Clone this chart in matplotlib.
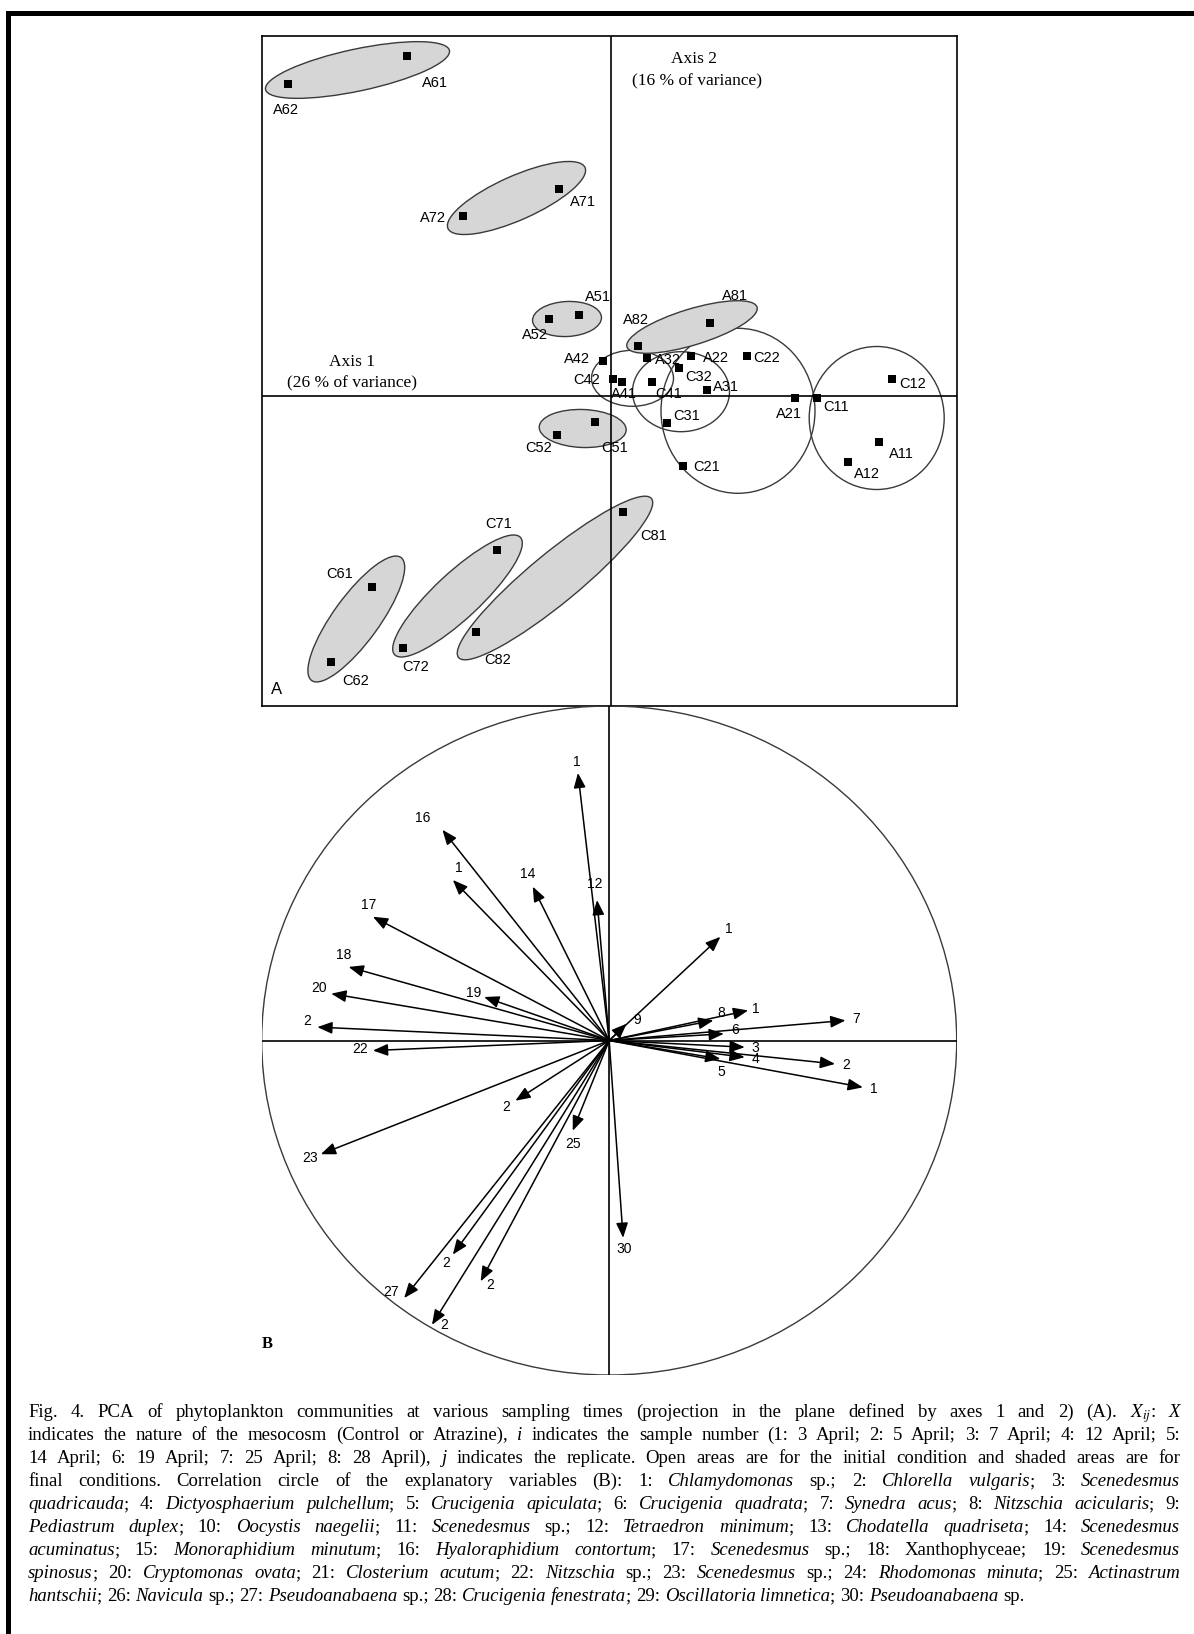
import matplotlib
matplotlib.use("Agg")
import matplotlib.pyplot as plt
from matplotlib.patches import Ellipse, FancyArrowPatch

plt.rcParams["font.family"] = ["Liberation Sans", "DejaVu Sans"]
plt.rcParams["mathtext.fontset"] = "stix"

SANS = "Liberation Sans"
SERIF = "Liberation Serif"

# ---- Panel A: sample scores on PCA axes 1 and 2 ----
samples = ["A61", "A62", "A71", "A72", "A51", "A52", "A81", "A82", "A42", "A32",
           "A22", "C22", "C32", "C42", "A41", "C41", "A31", "A21", "C11", "C12",
           "A11", "A12", "C31", "C21", "C51", "C52", "C81", "C82", "C71", "C72",
           "C61", "C62"]
axis1 = [-2.04, -3.23, -0.52, -1.48, -0.32, -0.62, 0.99, 0.27, -0.08, 0.36,
         0.80, 1.36, 0.68, 0.02, 0.11, 0.41, 0.96, 1.84, 2.06, 2.81,
         2.68, 2.37, 0.56, 0.72, -0.16, -0.54, 0.12, -1.35, -1.14, -2.08,
         -2.39, -2.80]
axis2 = [3.40, 3.12, 2.07, 1.80, 0.81, 0.77, 0.73, 0.50, 0.35, 0.38,
         0.40, 0.40, 0.28, 0.17, 0.14, 0.14, 0.06, -0.02, -0.02, 0.17,
         -0.46, -0.66, -0.27, -0.70, -0.26, -0.39, -1.16, -2.36, -1.54, -2.52,
         -1.91, -2.66]

# replicate envelopes (open = initial condition, shaded = final conditions)
env_x = [0.215, 0.70, 1.27, 2.657, -2.535, -0.945, -0.44, 0.81, -0.283, -0.56, -1.535, -2.547]
env_y = [0.177, 0.043, -0.148, -0.22, 3.26, 1.98, 0.77, 0.69, -0.325, -1.82, -2.00, -2.23]
env_w = [0.82, 0.97, 1.54, 1.35, 1.88, 1.50, 0.69, 1.36, 0.87, 2.50, 1.72, 1.52]
env_h = [0.56, 0.80, 1.65, 1.43, 0.42, 0.44, 0.35, 0.36, 0.38, 0.50, 0.46, 0.46]
env_angle = [0, 0, 0, 0, 12, 24, 3, 17, -2, 39.5, 43, 54]
env_shaded = [False, False, False, False, True, True, True, True, True, True, True, True]

# ---- Panel B: correlation circle of the explanatory variables ----
var_labels = ["1", "16", "1", "14", "12", "17", "18", "1", "20", "19",
              "2", "22", "9", "8", "1", "7", "6", "3", "4", "5",
              "2", "1", "2", "23", "25", "30", "2", "27", "2", "2"]
load1 = [-0.09, -0.48, -0.45, -0.22, -0.035, -0.68, -0.75, 0.32, -0.80, -0.36,
         -0.84, -0.68, 0.05, 0.30, 0.40, 0.68, 0.33, 0.39, 0.39, 0.32,
         0.65, 0.73, -0.27, -0.83, -0.105, 0.04, -0.45, -0.59, -0.37, -0.51]
load2 = [0.80, 0.63, 0.48, 0.46, 0.42, 0.37, 0.22, 0.31, 0.14, 0.13,
         0.04, -0.03, 0.05, 0.06, 0.09, 0.06, 0.02, -0.02, -0.05, -0.055,
         -0.07, -0.14, -0.18, -0.34, -0.27, -0.59, -0.64, -0.77, -0.72, -0.85]

caption = [
    "Fig. 4. PCA of phytoplankton communities at various sampling times (projection in the plane defined by axes 1 and 2) (A). $X_{ij}$: *X*",
    "indicates the nature of the mesocosm (Control or Atrazine), *i* indicates the sample number (1: 3 April; 2: 5 April; 3: 7 April; 4: 12 April; 5:",
    "14 April; 6: 19 April; 7: 25 April; 8: 28 April), *j* indicates the replicate. Open areas are for the initial condition and shaded areas are for",
    "final conditions. Correlation circle of the explanatory variables (B): 1: *Chlamydomonas* sp.; 2: *Chlorella vulgaris*; 3: *Scenedesmus*",
    "*quadricauda*; 4: *Dictyosphaerium pulchellum*; 5: *Crucigenia apiculata*; 6: *Crucigenia quadrata*; 7: *Synedra acus*; 8: *Nitzschia acicularis*; 9:",
    "*Pediastrum duplex*; 10: *Oocystis naegelii*; 11: *Scenedesmus* sp.; 12: *Tetraedron minimum*; 13: *Chodatella quadriseta*; 14: *Scenedesmus*",
    "*acuminatus*; 15: *Monoraphidium minutum*; 16: *Hyaloraphidium contortum*; 17: *Scenedesmus* sp.; 18: Xanthophyceae; 19: *Scenedesmus*",
    "*spinosus*; 20: *Cryptomonas ovata*; 21: *Closterium acutum*; 22: *Nitzschia* sp.; 23: *Scenedesmus* sp.; 24: *Rhodomonas minuta*; 25: *Actinastrum*",
    "*hantschii*; 26: *Navicula* sp.; 27: *Pseudoanabaena* sp.; 28: *Crucigenia fenestrata*; 29: *Oscillatoria limnetica*; 30: *Pseudoanabaena* sp.",
]

# label offsets in pixels (x right, y up) from each sample square
sample_nudge = {
    "A61": (28, -27), "A62": (-2, -26), "A71": (24, -13), "A72": (-30, -2),
    "A51": (19, 18), "A52": (-14, -16), "A81": (25, 27), "A82": (-2, 26),
    "A42": (-26, 2), "A32": (21, -2), "A22": (25, -2), "C22": (20, -2),
    "C32": (20, -9), "C42": (-26, -1), "A41": (2, -12), "C41": (17, -12),
    "A31": (19, 3), "A21": (-6, -16), "C11": (19, -9), "C12": (21, -5),
    "A11": (22, -12), "A12": (19, -12), "C31": (20, 7), "C21": (24, -1),
    "C51": (20, -26), "C52": (-18, -13), "C81": (31, -24), "C82": (22, -28),
    "C71": (2, 26), "C72": (13, -19), "C61": (-32, 13), "C62": (25, -19),
}
# arrow labels that do not sit straight out from the tip
arrow_nudge = {1: (-20, 12), 2: (6, 12), 3: (-5, 13), 4: (-2, 16), 5: (-4, 12),
               6: (-5, 12), 8: (-12, 6), 10: (-10, 6), 11: (-13, 2), 12: (11, 4),
               13: (8, 7), 14: (8, 1), 16: (11, 4), 19: (1, -13), 24: (0, -13),
               27: (-13, 6), 28: (10, -4), 29: (12, 0)}

W, H = 1194, 1634
fig = plt.figure(figsize=(W / 100, H / 100), dpi=100)

# full-figure overlay in pixel units for the frame and caption
ov = fig.add_axes([0, 0, 1, 1], zorder=0)
ov.set_xlim(0, W)
ov.set_ylim(H, 0)
ov.axis("off")
ov.plot([8, 8, W], [H, 13, 13], color="black", lw=3.6, solid_joinstyle="miter")


def px_axes(left, top, right, bottom):
    return fig.add_axes([left / W, 1 - bottom / H, (right - left) / W, (bottom - top) / H], zorder=1)


# ---------------- panel A ----------------
ax = px_axes(261.7, 36, 956.7, 706)
ax.set_xlim(-3.493, 3.457)
ax.set_ylim(-3.10, 3.60)
ax.set_xticks([])
ax.set_yticks([])
for sp in ax.spines.values():
    sp.set_linewidth(1.2)
ax.axhline(0, color="black", lw=1.2, zorder=3)
ax.axvline(0, color="black", lw=1.2, zorder=3)

for x, y, w, h, a, shaded in zip(env_x, env_y, env_w, env_h, env_angle, env_shaded):
    ax.add_patch(Ellipse((x, y), w, h, angle=a,
                         facecolor="#d6d6d6" if shaded else "none",
                         edgecolor="#3a3a3a", lw=1.0,
                         zorder=2 if shaded else 1))

ax.scatter(axis1, axis2, marker="s", s=40, color="black", zorder=4, linewidths=0)
for name, x, y in zip(samples, axis1, axis2):
    ax.annotate(name, (x, y), xytext=sample_nudge[name], textcoords="offset pixels",
                ha="center", va="center", fontsize=10.5, family=SANS, zorder=5)

ax.text(0.83, 3.37, "Axis 2", ha="center", va="center", family=SERIF, fontsize=12.5)
ax.text(0.86, 3.15, "(16 % of variance)", ha="center", va="center", family=SERIF, fontsize=12.5)
ax.text(-2.59, 0.34, "Axis 1", ha="center", va="center", family=SERIF, fontsize=12.5)
ax.text(-2.59, 0.13, "(26 % of variance)", ha="center", va="center", family=SERIF, fontsize=12.5)
ax.text(0.0216, 0.025, "A", transform=ax.transAxes, ha="center", va="center",
        family=SANS, fontsize=12)

# ---------------- panel B ----------------
bx = px_axes(261.7, 706, 956.7, 1375)
bx.set_xlim(-1, 1)
bx.set_ylim(-1, 1)
bx.axis("off")
bx.add_patch(Ellipse((0, 0), 2, 2, facecolor="none", edgecolor="#3a3a3a", lw=1.0))
bx.plot([-1, 1], [0, 0], color="black", lw=1.2)
bx.plot([0, 0], [-1, 1], color="black", lw=1.2)

origin = bx.transData.transform((0, 0))
for i, (lab, x, y) in enumerate(zip(var_labels, load1, load2)):
    bx.add_patch(FancyArrowPatch((0, 0), (x, y),
                                 arrowstyle="-|>,head_length=9,head_width=3.6",
                                 mutation_scale=1, lw=1.1, color="black",
                                 shrinkA=0, shrinkB=0, zorder=3))
    if i in arrow_nudge:
        off = arrow_nudge[i]
    else:
        tx, ty = bx.transData.transform((x, y)) - origin
        n = (tx ** 2 + ty ** 2) ** 0.5
        off = (11 * tx / n, 11 * ty / n)
    bx.annotate(lab, (x, y), xytext=off, textcoords="offset pixels",
                ha="center", va="center", fontsize=10, family=SANS, zorder=4)

ov.text(267, 1344, "B", ha="center", va="center", family=SERIF,
        fontsize=12, fontweight="bold")


# ---------------- caption (justified) ----------------
def split_runs(line):
    words, runs, buf, italic = [], [], "", False
    for ch in line:
        if ch == "*":
            if buf:
                runs.append((buf, italic))
                buf = ""
            italic = not italic
        elif ch == " ":
            if buf:
                runs.append((buf, italic))
                buf = ""
            if runs:
                words.append(runs)
                runs = []
        else:
            buf += ch
    if buf:
        runs.append((buf, italic))
    if runs:
        words.append(runs)
    return words


def draw_caption(lines, left, right, first, leading, size):
    renderer = fig.canvas.get_renderer()
    for k, line in enumerate(lines):
        y = first + k * leading
        measured = []
        for runs in split_runs(line):
            pieces = []
            for txt, ital in runs:
                t = ov.text(0, y, txt, fontsize=size, family=SERIF,
                            style="italic" if ital else "normal",
                            ha="left", va="baseline")
                pieces.append((t, t.get_window_extent(renderer).width))
            measured.append(pieces)
        total = sum(w for pieces in measured for _, w in pieces)
        if k == len(lines) - 1:
            gap = size * 100 / 72 * 0.25
        else:
            gap = (right - left - total) / (len(measured) - 1)
        x = left
        for pieces in measured:
            for t, w in pieces:
                t.set_x(x)
                x += w
            x += gap


draw_caption(caption, 28, 1180, 1417, 23, 13.5)

fig.savefig("out.png", dpi=100)
